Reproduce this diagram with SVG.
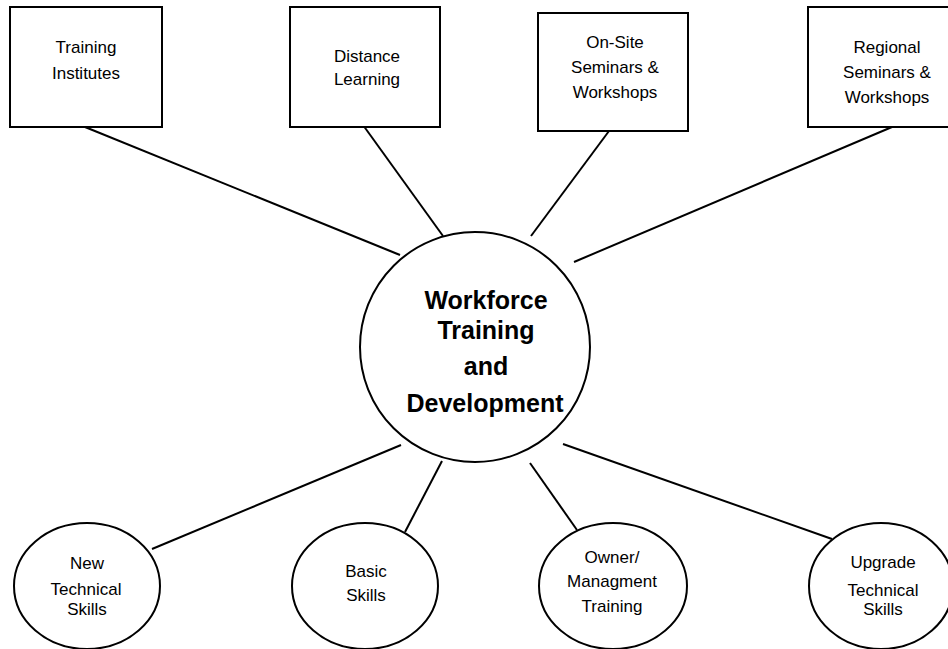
<svg xmlns="http://www.w3.org/2000/svg" width="948" height="649" viewBox="0 0 948 649">
<style>
.s{fill:#fff;stroke:#000;stroke-width:2}
.c line{stroke:#000;stroke-width:2}
text{font-family:"Liberation Sans",Arial,sans-serif;font-size:17px;text-anchor:middle;fill:#000}
.b{font-weight:bold;font-size:25px}
</style>
<rect width="948" height="649" fill="#fff"/>
<g class="c" id="connectors">
<line x1="85" y1="127" x2="400" y2="255"/>
<line x1="363" y1="125" x2="443" y2="236"/>
<line x1="609" y1="131" x2="531" y2="236"/>
<line x1="892" y1="127" x2="574" y2="262"/>
<line x1="152" y1="549" x2="401" y2="445"/>
<line x1="405" y1="532" x2="442" y2="461"/>
<line x1="530" y1="463" x2="577" y2="530"/>
<line x1="563" y1="444" x2="832" y2="539"/>
</g>
<g id="n1"><rect class="s" x="10" y="7" width="152" height="120"/><text x="86" y="53">Training</text><text x="86" y="79">Institutes</text></g>
<g id="n2"><rect class="s" x="290" y="7" width="150" height="120"/><text x="367" y="62">Distance</text><text x="367" y="85">Learning</text></g>
<g id="n3"><rect class="s" x="538" y="13" width="150" height="118"/><text x="615" y="48">On-Site</text><text x="615" y="73">Seminars &amp;</text><text x="615" y="98">Workshops</text></g>
<g id="n4"><rect class="s" x="808" y="7" width="145" height="120"/><text x="887" y="53">Regional</text><text x="887" y="78">Seminars &amp;</text><text x="887" y="103">Workshops</text></g>
<g id="center"><ellipse class="s" cx="475" cy="347" rx="115" ry="115"/><text class="b" x="486" y="309">Workforce</text><text class="b" x="486" y="339">Training</text><text class="b" x="486" y="375">and</text><text class="b" x="485" y="412">Development</text></g>
<g id="e1"><ellipse class="s" cx="87" cy="586" rx="73" ry="63"/><text x="87" y="569">New</text><text x="86" y="595">Technical</text><text x="87" y="615">Skills</text></g>
<g id="e2"><ellipse class="s" cx="365" cy="586" rx="73" ry="63"/><text x="366" y="577">Basic</text><text x="366" y="601">Skills</text></g>
<g id="e3"><ellipse class="s" cx="613" cy="586" rx="74" ry="63"/><text x="612" y="563">Owner/</text><text x="612" y="587">Managment</text><text x="612" y="612">Training</text></g>
<g id="e4"><ellipse class="s" cx="881" cy="586" rx="72" ry="63"/><text x="883" y="568">Upgrade</text><text x="883" y="596">Technical</text><text x="883" y="615">Skills</text></g>
</svg>
